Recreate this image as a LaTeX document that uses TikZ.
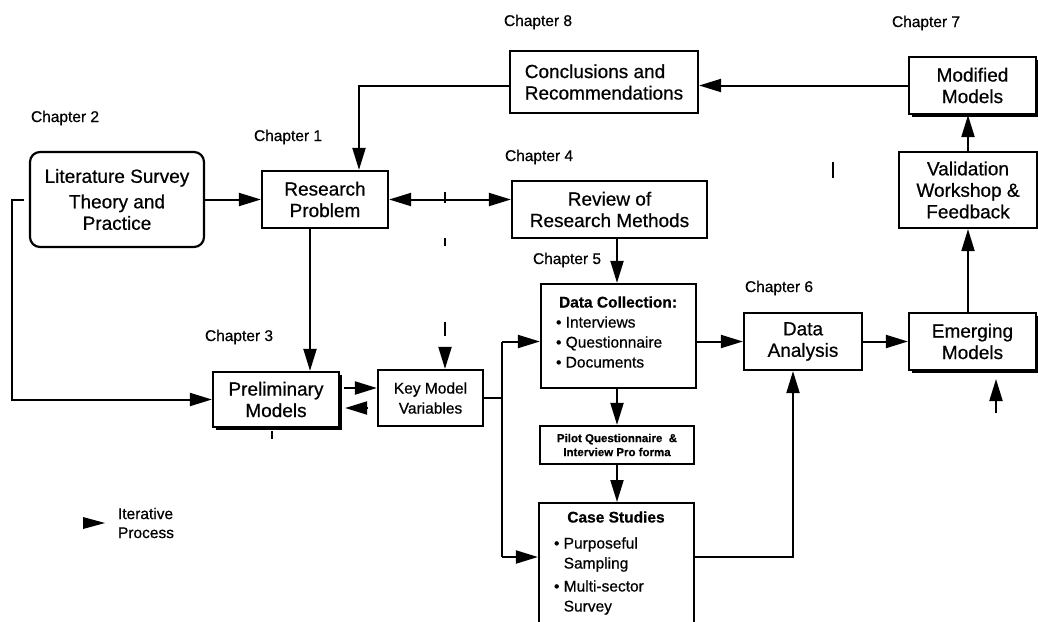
\documentclass[tikz,border=0pt]{standalone}
\usepackage{fontspec}
\setmainfont{Liberation Sans}[FakeBold=0.6]
\usetikzlibrary{arrows.meta,shadows}

% font sizes used in the chart
\newcommand\dgBoxFont{\fontsize{19}{21.5}\selectfont}
\newcommand\dgChapFont{\fontsize{15.5}{19}\selectfont}
\newcommand\dgItemFont{\fontsize{15.5}{20}\selectfont}
\newcommand\dgPilotFont{\fontsize{11.5}{14}\selectfont\bfseries}

\begin{document}
\begin{tikzpicture}[x=1pt,y=-1pt,line width=2pt,
  box/.style={draw,fill=white,line width=2.2pt,align=center,inner sep=2pt,font=\dgBoxFont},
  shadowed/.style={drop shadow={shadow xshift=3pt,shadow yshift=-3pt,fill=black,opacity=1}},
  chap/.style={anchor=west,inner sep=0pt,font=\dgChapFont},
  txt/.style={inner sep=0pt},
  arr/.style={-{Triangle[length=22pt,width=13pt]}},
  dblarr/.style={{Triangle[length=22pt,width=13pt]}-{Triangle[length=22pt,width=13pt]}},
  tick/.style={line width=1.6pt}]

\useasboundingbox (0,0) rectangle (1038,621);

% chapter labels
\node[chap] (ch8) at (503,22) {Chapter 8};
\node[chap] (ch7) at (891,23) {Chapter 7};
\node[chap] (ch2) at (30,118) {Chapter 2};
\node[chap] (ch1) at (253,137) {Chapter 1};
\node[chap] (ch4) at (504,157) {Chapter 4};
\node[chap] (ch5) at (532,260) {Chapter 5};
\node[chap] (ch6) at (744,288) {Chapter 6};
\node[chap] (ch3) at (204,337) {Chapter 3};

% boxes
\node[box,rounded corners=10pt,minimum width=174pt,minimum height=95pt] (lit) at (117,199.5)
  {Literature Survey\\[4pt]Theory and\\Practice};
\node[box,minimum width=126pt,minimum height=57pt] (rp) at (325,199.5) {Research\\Problem};
\node[box,minimum width=195pt,minimum height=57pt] (rev) at (609.5,209.5) {Review of\\Research Methods};
\node[box,align=left,minimum width=188pt,minimum height=62pt] (conc) at (604,82) {Conclusions and\\Recommendations};
\node[box,shadowed,minimum width=127pt,minimum height=57pt] (mod) at (972.5,85.5) {Modified\\Models};
\node[box,minimum width=138pt,minimum height=76pt] (val) at (968,190) {Validation\\Workshop \&\\Feedback};
\node[box,shadowed,minimum width=127pt,minimum height=57pt] (emer) at (972.5,341.5) {Emerging\\Models};
\node[box,minimum width=118pt,minimum height=57pt] (da) at (803,341.5) {Data\\Analysis};
\node[box,shadowed,minimum width=126pt,minimum height=55pt] (pm) at (276,399.5) {Preliminary\\Models};
\node[box,font=\dgItemFont,minimum width=105pt,minimum height=56pt] (kmv) at (430.5,398) {Key Model\\Variables};
\node[box,minimum width=155pt,minimum height=104pt] (dc) at (618.5,336) {};
\node[box,font=\dgPilotFont,minimum width=154pt,minimum height=38pt] (pilot) at (617,445)
  {Pilot Questionnaire \ \&\\Interview Pro forma};
\node[box,anchor=north,minimum width=155pt,minimum height=160pt] (case) at (616.5,502) {};

% contents of the data collection and case study boxes
\node[txt,font=\dgItemFont\bfseries] (dch) at (618,302) {Data Collection:};
\node[txt,font=\dgItemFont,align=left,anchor=west] (dci) at (555,342)
  {\textbullet\ Interviews\\\textbullet\ Questionnaire\\\textbullet\ Documents};
\node[txt,font=\dgItemFont\bfseries] (csh) at (616,517) {Case Studies};
\node[txt,font=\dgItemFont,align=left,anchor=west] (csi) at (553,576)
  {\textbullet\ Purposeful\\\hphantom{\textbullet\ }Sampling\\[3pt]\textbullet\ Multi-sector\\\hphantom{\textbullet\ }Survey};

% legend
\fill (83,517) -- (105,523) -- (83,529) -- cycle;
\node[txt,font=\dgChapFont,align=left,anchor=west] (leg) at (117,523) {Iterative\\Process};

% routing coordinates
\coordinate (xL) at (12,0);
\coordinate (xRP) at (310,0);
\coordinate (xC) at (359,0);
\coordinate (xT) at (502,0);
\coordinate (xDC) at (617,0);
\coordinate (xDA) at (793,0);
\coordinate (yCase) at (0,557);
\coordinate (kIn) at (445,347);
\coordinate (eIn) at (996,413);
\coordinate (eTip) at (996,379);

% connectors
\draw[arr] (lit.east) -- (rp.west);
\draw[dblarr] (rp.east) -- (rp.east -| rev.west);
\draw[arr] ([xshift=-5pt]lit.west) -| (xL |- pm.west) -- (pm.west);
\draw[arr] (mod.west) -- (mod.west -| conc.east);
\draw[arr] (conc.west |- mod.west) -| (xC |- rp.north);
\draw[arr] (xRP |- rp.south) -- (xRP |- pm.north);
\draw[arr] ([xshift=4pt,yshift=11.5pt]pm.east) -- ([yshift=11.5pt]pm.east -| kmv.west);
\draw[arr] ([xshift=27pt,yshift=-8.5pt]pm.east) -- ([xshift=5pt,yshift=-8.5pt]pm.east);
\draw (kmv.east) -- (xT |- kmv.east);
\draw (xT |- da.west) -- (xT |- yCase);
\draw[arr] (xT |- da.west) -- (dc.west |- da.west);
\draw[arr] (xT |- yCase) -- (case.west |- yCase);
\draw[arr] (xDC |- rev.south) -- (xDC |- dc.north);
\draw[arr] (xDC |- dc.south) -- (xDC |- pilot.north);
\draw[arr] (xDC |- pilot.south) -- (xDC |- case.north);
\draw[arr] (dc.east |- da.west) -- (da.west);
\draw[arr] (case.east |- yCase) -| (xDA |- da.south);
\draw[arr] (da.east) -- (emer.west);
\draw[arr] (val.south |- emer.north) -- (val.south);
\draw[arr] (val.north) -- (val.north |- mod.south);
\draw[arr] (kIn) -- (kIn |- kmv.north);
\draw[arr] (eIn) -- (eTip);

% short marks
\draw[tick] (445,192) -- (445,203);
\draw[tick] (445,238) -- (445,246);
\draw[tick] (445,322) -- (445,336);
\draw[tick] (833,162) -- (833,178);
\draw[tick] (272,431) -- (272,439);

\end{tikzpicture}
\end{document}
